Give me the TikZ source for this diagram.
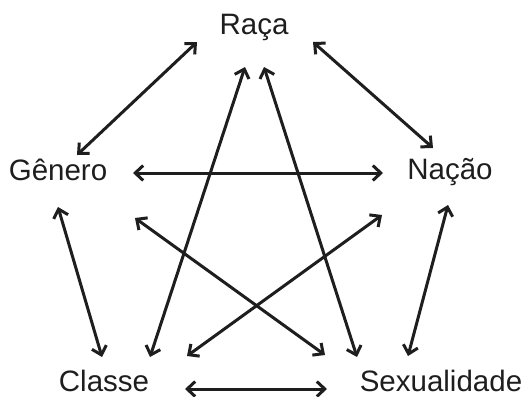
\documentclass[tikz,border=0pt]{standalone}
\usepackage{fontspec}
\setmainfont{Liberation Sans}
\usepackage{xcolor}
\usepackage{tikz}
\usetikzlibrary{arrows.meta}
\definecolor{lblack}{RGB}{30,30,30}

\tikzset{
    cat/.style={anchor=base, inner sep=0pt, text=lblack, font=\fontsize{29.5}{34}\selectfont},
    rel/.style={lblack, line width=3pt, {Straight Barb[length=8pt,width=15pt]}-{Straight Barb[length=8pt,width=15pt]}}
}

\begin{document}
\begin{tikzpicture}[x=1pt,y=-1pt]
    \useasboundingbox (0,0) rectangle (527,396);

    % categories
    \node[cat] (raca) at (254,35) {Raça};
    \node[cat] (genero) at (58,180) {Gênero};
    \node[cat] (nacao) at (450,179) {Nação};
    \node[cat] (classe) at (104,391) {Classe};
    \node[cat] (sexo) at (441,391) {Sexualidade};

    % outer pentagon
    \draw[rel] ([xshift=-57pt,yshift=-7pt]raca.base) -- ([xshift=19pt,yshift=25pt]genero.base);
    \draw[rel] ([xshift=59pt,yshift=-7pt]raca.base) -- ([xshift=-17pt,yshift=31pt]nacao.base);
    \draw[rel] ([xshift=0pt,yshift=-27pt]genero.base) -- ([xshift=-2pt,yshift=34pt]classe.base);
    \draw[rel] ([xshift=-2pt,yshift=-26pt]nacao.base) -- ([xshift=-33pt,yshift=35pt]sexo.base);
    \draw[rel] ([xshift=81pt,yshift=2pt]classe.base) -- ([xshift=-114pt,yshift=2pt]sexo.base);

    % inner star
    \draw[rel] ([xshift=75pt,yshift=7pt]genero.base) -- ([xshift=-67pt,yshift=6pt]nacao.base);
    \draw[rel] ([xshift=-9pt,yshift=-32pt]raca.base) -- ([xshift=46pt,yshift=34pt]classe.base);
    \draw[rel] ([xshift=10pt,yshift=-32pt]raca.base) -- ([xshift=-84pt,yshift=34pt]sexo.base);
    \draw[rel] ([xshift=77pt,yshift=-38pt]genero.base) -- ([xshift=-116pt,yshift=36pt]sexo.base);
    \draw[rel] ([xshift=-68pt,yshift=-36pt]nacao.base) -- ([xshift=83pt,yshift=35pt]classe.base);
\end{tikzpicture}
\end{document}
